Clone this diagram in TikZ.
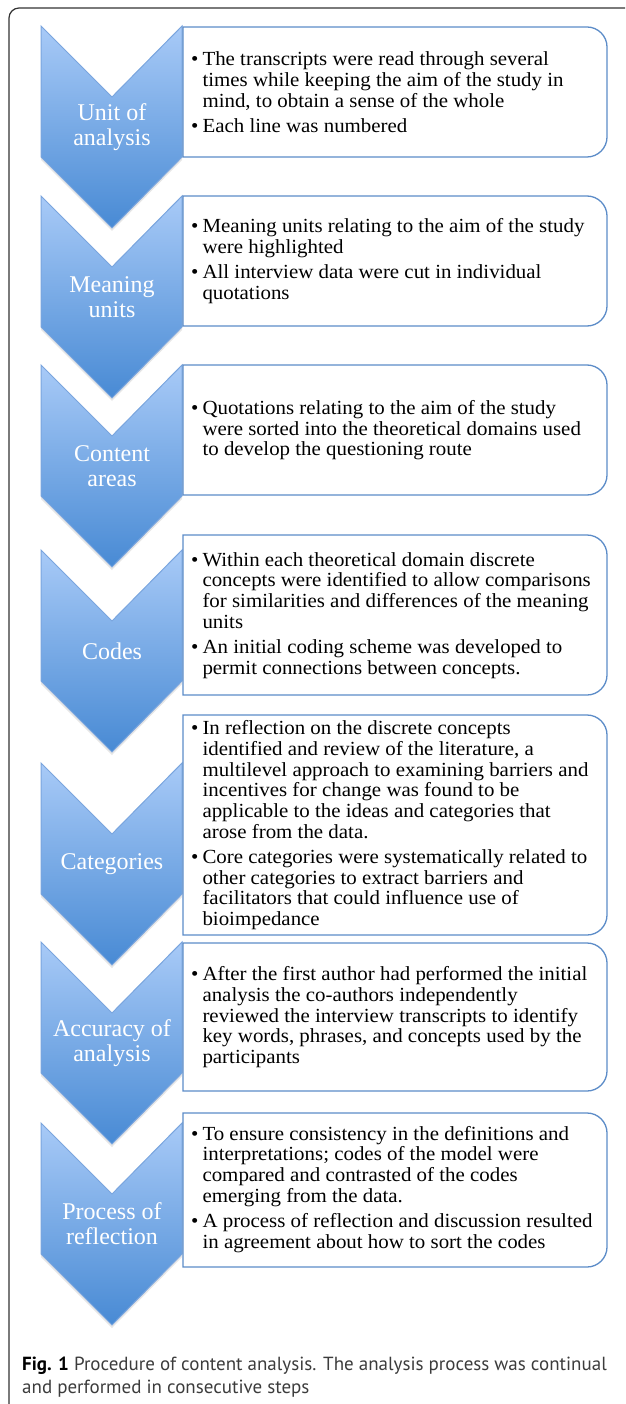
\documentclass[tikz,border=0pt]{standalone}
\usepackage{fontspec}
\setmainfont{Liberation Serif}
\newfontfamily\boxfont{Liberation Serif}[FakeStretch=1.045]
\newfontfamily\capfont{PT Sans}
\usetikzlibrary{shadows}
\definecolor{chevtop}{RGB}{168,202,247}
\definecolor{chevbot}{RGB}{72,138,212}
\definecolor{chevedge}{RGB}{122,165,222}
\definecolor{boxedge}{RGB}{92,140,200}
\definecolor{capgray}{RGB}{60,60,60}

\begin{document}
\begin{tikzpicture}[x=1pt,y=-1pt,
    chev/.style={draw=chevedge,line width=1pt,top color=chevtop,bottom color=chevbot,
                 drop shadow={opacity=0.2,shadow xshift=0pt,shadow yshift=-3pt}},
    chevtext/.style={text=white,align=center,inner sep=0pt,font=\fontsize{24}{25}\selectfont},
    boxline/.style={draw=boxedge,line width=1.3pt,fill=white},
    boxtext/.style={anchor=west,inner sep=0pt,font=\boxfont\fontsize{20}{20.8}\selectfont},
    frameline/.style={draw=black!80,line width=1.2pt}]
\useasboundingbox (0,0) rectangle (625,1404);
% outer frame
\path[frameline] (9,1404) -- (9,18) .. controls (9,12.5) and (13.5,8) .. (19,8) -- (625,8);
% chevrons
\foreach \t/\n/\lab in {26/1/{Unit of\\analysis},196/2/{Meaning\\units},365/3/{Content\\areas},
    550/4/{Codes},763/5/{Categories},942/6/{Accuracy of\\analysis},1123/7/{Process of\\reflection}}{
  \path[chev] (41,\t) -- ++(71,71) -- ++(70,-71) -- ++(0,131) -- ++(-70,71) -- ++(-71,-71) -- cycle;
  \node[chevtext] (c\n) at (112,\t+101) {\lab};
}
% text boxes
\foreach \t/\b in {27/157,196/326,365/495,535/695,715/935,943/1091,1113/1267}
  \path[boxline] (183,\t) -- (587,\t) .. controls (598,\t) and (607,\t+9) .. (607,\t+20)
    -- (607,\b-20) .. controls (607,\b-9) and (598,\b) .. (587,\b) -- (183,\b) -- cycle;
\node[boxtext] (t1) at (191,95) {\begin{tabular}{@{}l@{\hspace{4pt}}l@{}}
  \textbullet & The transcripts were read through several\\
  & times while keeping the aim of the study in\\
  & mind, to obtain a sense of the whole\\[4pt]
  \textbullet & Each line was numbered
\end{tabular}};
\node[boxtext] (t2) at (191,262) {\begin{tabular}{@{}l@{\hspace{4pt}}l@{}}
  \textbullet & Meaning units relating to the aim of the study\\
  & were highlighted\\[4pt]
  \textbullet & All interview data were cut in individual\\
  & quotations
\end{tabular}};
\node[boxtext] (t3) at (191,431) {\begin{tabular}{@{}l@{\hspace{4pt}}l@{}}
  \textbullet & Quotations relating to the aim of the study\\
  & were sorted into the theoretical domains used\\
  & to develop the questioning route
\end{tabular}};
\node[boxtext] (t4) at (191,616) {\begin{tabular}{@{}l@{\hspace{4pt}}l@{}}
  \textbullet & Within each theoretical domain discrete\\
  & concepts were identified to allow comparisons\\
  & for similarities and differences of the meaning\\
  & units\\[4pt]
  \textbullet & An initial coding scheme was developed to\\
  & permit connections between concepts.
\end{tabular}};
\node[boxtext] (t5) at (191,826) {\begin{tabular}{@{}l@{\hspace{4pt}}l@{}}
  \textbullet & In reflection on the discrete concepts\\
  & identified and review of the literature, a\\
  & multilevel approach to examining barriers and\\
  & incentives for change was found to be\\
  & applicable to the ideas and categories that\\
  & arose from the data.\\[4pt]
  \textbullet & Core categories were systematically related to\\
  & other categories to extract barriers and\\
  & facilitators that could influence use of\\
  & bioimpedance
\end{tabular}};
\node[boxtext] (t6) at (191,1018) {\begin{tabular}{@{}l@{\hspace{4pt}}l@{}}
  \textbullet & After the first author had performed the initial\\
  & analysis the co-authors independently\\
  & reviewed the interview transcripts to identify\\
  & key words, phrases, and concepts used by the\\
  & participants
\end{tabular}};
\node[boxtext] (t7) at (191,1190) {\begin{tabular}{@{}l@{\hspace{4pt}}l@{}}
  \textbullet & To ensure consistency in the definitions and\\
  & interpretations; codes of the model were\\
  & compared and contrasted of the codes\\
  & emerging from the data.\\[4pt]
  \textbullet & A process of reflection and discussion resulted\\
  & in agreement about how to sort the codes
\end{tabular}};
% caption
\node[anchor=west,align=left,inner sep=0pt,text=capgray,
      font=\capfont\fontsize{19}{23}\selectfont] (cap) at (22,1377)
  {\textbf{\color{black}Fig. 1} Procedure of content analysis. The analysis process was continual\\
   and performed in consecutive steps};
\end{tikzpicture}
\end{document}
